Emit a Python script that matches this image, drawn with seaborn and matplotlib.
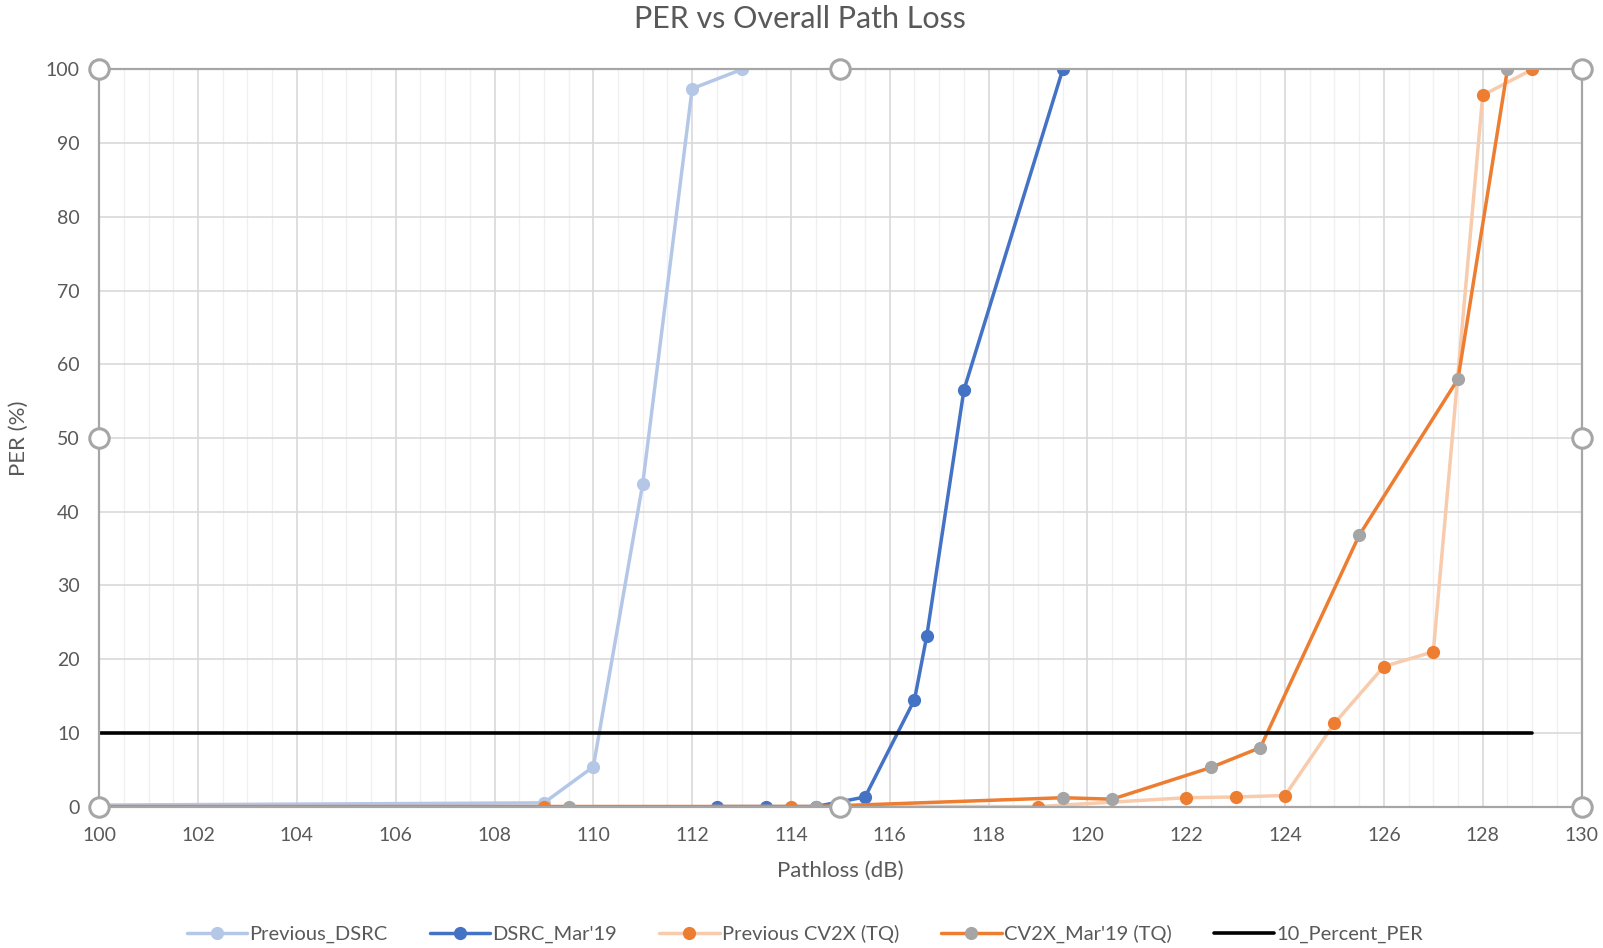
import numpy as np
import pandas as pd
import seaborn as sns
import matplotlib.pyplot as plt
from matplotlib.ticker import MultipleLocator

# data
prev_dsrc_x = [100, 109, 110, 111, 112, 113]
prev_dsrc_y = [0.2, 0.5, 5.4, 43.8, 97.4, 100]

dsrc_x = [112.5, 113.5, 114.5, 115.5, 116.5, 116.75, 117.5, 119.5]
dsrc_y = [0, 0, 0, 1.3, 14.5, 23.2, 56.5, 100]

prev_cv2x_x = [109, 114, 119, 122, 123, 124, 125, 126, 127, 128, 129]
prev_cv2x_y = [0, 0, 0, 1.2, 1.3, 1.5, 11.3, 19.0, 21.0, 96.5, 100]

cv2x_x = [100, 109.5, 114.5, 119.5, 120.5, 122.5, 123.5, 125.5, 127.5, 128.5]
cv2x_y = [0, 0, 0, 1.2, 1.0, 5.3, 8.0, 36.8, 58.0, 100]

per10_x = [100, 129]
per10_y = [10, 10]

sns.set_style("white")
plt.rcParams['font.family'] = ['Lato', 'DejaVu Sans']

fig = plt.figure(figsize=(16.03, 9.48), dpi=100)
ax = fig.add_axes([0.0619, 0.1492, 0.9247, 0.7775])

txt = '#595959'
line_kw = dict(linewidth=2.5, markersize=9.5, markeredgewidth=0)

sns.lineplot(x=prev_dsrc_x, y=prev_dsrc_y, ax=ax, color='#B4C7E7', marker='o',
             label='Previous_DSRC', **line_kw)
sns.lineplot(x=dsrc_x, y=dsrc_y, ax=ax, color='#4472C4', marker='o',
             label="DSRC_Mar'19", **line_kw)
sns.lineplot(x=prev_cv2x_x, y=prev_cv2x_y, ax=ax, color='#F8CBAD', marker='o',
             markerfacecolor='#ED7D31', label='Previous CV2X (TQ)', **line_kw)
sns.lineplot(x=cv2x_x, y=cv2x_y, ax=ax, color='#ED7D31', marker='o',
             markerfacecolor='#A5A5A5', label="CV2X_Mar'19 (TQ)", **line_kw)
sns.lineplot(x=per10_x, y=per10_y, ax=ax, color='black', linewidth=2.6,
             label='10_Percent_PER')

ax.set_xlim(100, 130)
ax.set_ylim(0, 100)
ax.xaxis.set_major_locator(MultipleLocator(2))
ax.xaxis.set_minor_locator(MultipleLocator(0.5))
ax.yaxis.set_major_locator(MultipleLocator(10))
ax.grid(which='major', axis='both', color='#D9D9D9', linewidth=1.2)
ax.grid(which='minor', axis='x', color='#F0F0F0', linewidth=1.0)
ax.set_axisbelow(True)
ax.tick_params(which='both', length=0, labelsize=14, labelcolor=txt)
ax.tick_params(axis='x', pad=15)
ax.tick_params(axis='y', pad=14)

for s in ax.spines.values():
    s.set_color('#A6A6A6')
    s.set_linewidth(1.6)

ax.set_title('PER vs Overall Path Loss', fontsize=22, color=txt, pad=30, x=0.473)
ax.set_xlabel('Pathloss (dB)', fontsize=16, color=txt, labelpad=12)
ax.set_ylabel('PER (%)', fontsize=16, color=txt, labelpad=12)

# plot-area selection handles
for hx, hy in [(0, 0), (0.5, 0), (1, 0), (0, 0.5), (1, 0.5), (0, 1), (0.5, 1), (1, 1)]:
    ax.plot(hx, hy, 'o', transform=ax.transAxes, ms=14, mfc='white',
            mec='#A6A6A6', mew=2.2, clip_on=False, zorder=10)

handles, labels = ax.get_legend_handles_labels()
ax.legend(handles, labels, loc='center', bbox_to_anchor=(0.502, 0.0145),
          bbox_transform=fig.transFigure, ncol=5, frameon=False, fontsize=14.5,
          handlelength=3, columnspacing=2.1, handletextpad=0.1, labelcolor=txt,
          borderpad=0)

fig.savefig('out.png', dpi=100)
